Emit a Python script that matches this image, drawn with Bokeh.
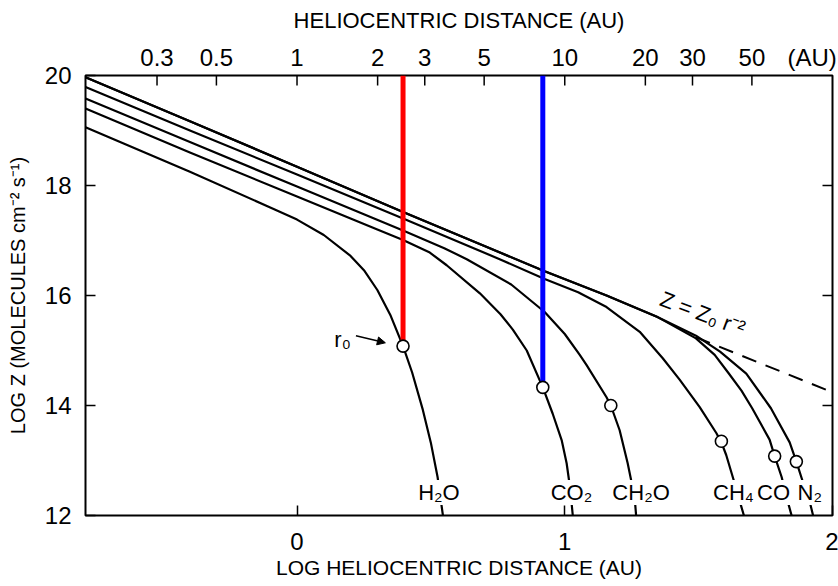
import math
from bokeh.plotting import figure
from bokeh.models import Range1d, LinearAxis, FixedTicker, Label, Arrow, NormalHead
from bokeh.embed import file_html
from bokeh.resources import INLINE

# ---------------- data (log10 heliocentric distance [AU], log10 Z) ----------------
h2o_x = [-0.79, -0.40, -0.10, 0.0, 0.10, 0.20, 0.25, 0.30, 0.35, 0.396, 0.43, 0.47, 0.50, 0.525, 0.545]
h2o_y = [19.06, 18.25, 17.60, 17.38, 17.10, 16.72, 16.46, 16.10, 15.63, 15.08, 14.60, 13.92, 13.32, 12.70, 12.00]

co2_x = [-0.79, -0.40, 0.0, 0.30, 0.396, 0.496, 0.559, 0.683, 0.76, 0.806, 0.858, 0.918, 0.955, 0.989, 1.007, 1.02, 1.03]
co2_y = [19.40, 18.60, 17.80, 17.20, 17.01, 16.78, 16.55, 16.04, 15.66, 15.38, 15.00, 14.33, 13.85, 13.36, 12.95, 12.50, 12.00]

ch2o_x = [-0.79, -0.40, 0.0, 0.396, 0.55, 0.634, 0.80, 0.925, 1.0, 1.056, 1.081, 1.156, 1.172, 1.205, 1.235, 1.261, 1.267]
ch2o_y = [19.58, 18.79, 17.98, 17.18, 16.86, 16.66, 16.20, 15.70, 15.30, 14.92, 14.74, 14.15, 14.00, 13.55, 12.95, 12.33, 11.97]

ch4_x = [-0.79, -0.40, 0.0, 0.396, 0.757, 0.925, 1.05, 1.156, 1.28, 1.366, 1.429, 1.504, 1.566, 1.585, 1.603, 1.63, 1.653, 1.672]
ch4_y = [19.79, 19.00, 18.20, 17.40, 16.66, 16.30, 16.06, 15.79, 15.34, 14.86, 14.47, 13.97, 13.50, 13.33, 13.10, 12.66, 12.27, 11.95]

co_x = [-0.79, -0.40, 0.0, 0.396, 0.70, 0.925, 1.156, 1.342, 1.49, 1.56, 1.61, 1.66, 1.70, 1.765, 1.784, 1.81, 1.832, 1.85]
co_y = [19.97, 19.17, 18.34, 17.52, 16.90, 16.44, 16.00, 15.62, 15.22, 14.92, 14.60, 14.27, 13.95, 13.38, 13.08, 12.70, 12.27, 11.95]

n2_x = [-0.79, -0.40, 0.0, 0.396, 0.70, 0.925, 1.156, 1.342, 1.49, 1.58, 1.678, 1.77, 1.84, 1.865, 1.89, 1.914, 1.93]
n2_y = [19.97, 19.17, 18.34, 17.52, 16.90, 16.44, 16.00, 15.62, 15.27, 14.98, 14.58, 13.95, 13.33, 12.98, 12.60, 12.27, 11.95]

# Z = Z0 r^-2 extension (dashed)
dash_x = [1.49, 2.0]
dash_y = [15.24, 14.24]

# r0 markers (open circles)
r0_names = ["H2O", "CO2", "CH2O", "CH4", "CO", "N2"]
r0_x = [0.396, 0.918, 1.172, 1.585, 1.784, 1.865]
r0_y = [15.08, 14.33, 14.00, 13.35, 13.08, 12.98]

# coloured vertical markers
red_x, red_y0, red_y1 = 0.396, 20.0, 15.08
blue_x, blue_y0, blue_y1 = 0.918, 20.0, 14.33

# species labels
lab_text = ["H\u2082O", "CO\u2082", "CH\u2082O", "CH\u2084", "CO", "N\u2082"]
lab_x = [0.53, 1.025, 1.285, 1.63, 1.78, 1.915]
lab_y = [12.42, 12.42, 12.42, 12.42, 12.42, 12.42]

# axis ticks
y_ticks = [12, 14, 16, 18, 20]
y_ticks_right = [14, 16, 18]
x_ticks = [0, 1, 2]
au_ticks = [0.3, 0.5, 1, 2, 3, 5, 10, 20, 30, 50]
au_labels = ["0.3", "0.5", "1", "2", "3", "5", "10", "20", "30", "50"]
au_unit_pos = 1.924          # log position where the "(AU)" unit text sits
au_unit_text = "(AU)"

TICK_FONT = "Liberation Sans"
TXT_FONT = "Liberation Sans"
X0, X1, Y0, Y1 = -0.79, 2.0, 12.0, 20.0
TICK_DY = 10 / 55.0    # tick length (10 px) in y data units
TICK_DX = 10 / 268.0   # tick length (10 px) in x data units

p = figure(width=838, height=586, output_backend="svg", toolbar_location=None,
           x_range=Range1d(X0, X1), y_range=Range1d(Y0, Y1),
           x_axis_location=None, y_axis_location=None,
           min_border_left=85, min_border_right=6, min_border_top=75, min_border_bottom=71)
p.background_fill_color = "white"
p.border_fill_color = "white"
p.outline_line_color = "black"
p.outline_line_width = 2
p.xgrid.visible = False
p.ygrid.visible = False

def style_axis(ax, font_size="24px"):
    ax.axis_line_color = None
    ax.major_tick_out = 0
    ax.major_tick_in = 10
    ax.major_tick_line_color = "black"
    ax.major_tick_line_width = 1.5
    ax.minor_tick_line_color = None
    ax.major_label_text_font = TICK_FONT
    ax.major_label_text_font_size = font_size
    ax.major_label_text_color = "black"
    ax.axis_label_text_font = TXT_FONT
    ax.axis_label_text_font_style = "normal"
    ax.axis_label_text_color = "black"

left = LinearAxis(ticker=FixedTicker(ticks=y_ticks), axis_label="LOG Z (MOLECULES cm\u207b\u00b2 s\u207b\u00b9)")
style_axis(left)
left.major_label_standoff = 14
left.axis_label_standoff = 13
left.axis_label_text_font_size = "20px"
p.add_layout(left, "left")

bottom = LinearAxis(ticker=FixedTicker(ticks=x_ticks), axis_label="LOG HELIOCENTRIC DISTANCE (AU)")
style_axis(bottom)
bottom.major_label_standoff = 17
bottom.axis_label_standoff = 3
bottom.axis_label_text_font_size = "21px"
p.add_layout(bottom, "below")

top_ticks = [math.log10(v) for v in au_ticks]
top_label_pos = top_ticks + [au_unit_pos]
top = LinearAxis(ticker=FixedTicker(ticks=top_label_pos), axis_label="HELIOCENTRIC DISTANCE (AU)")
style_axis(top)
top.major_tick_in = 0
top.major_label_overrides = {t: s for t, s in zip(top_label_pos, au_labels + [au_unit_text])}
top.major_label_standoff = 5
top.axis_label_standoff = 8
top.axis_label_text_font_size = "22px"
p.add_layout(top, "above")

# inward tick marks on top (AU scale) and right edges
p.segment(x0=top_ticks, y0=[Y1] * len(top_ticks), x1=top_ticks, y1=[Y1 - TICK_DY] * len(top_ticks),
          line_color="black", line_width=1.5)
p.segment(x0=[X1] * len(y_ticks_right), y0=y_ticks_right, x1=[X1 - TICK_DX] * len(y_ticks_right),
          y1=y_ticks_right, line_color="black", line_width=1.5)

LW = 2.2
for xs, ys in [(h2o_x, h2o_y), (co2_x, co2_y), (ch2o_x, ch2o_y),
               (ch4_x, ch4_y), (co_x, co_y), (n2_x, n2_y)]:
    p.line(xs, ys, line_color="black", line_width=LW, line_join="round")

p.line(dash_x, dash_y, line_color="black", line_width=2, line_dash="15 10")

p.segment(x0=[red_x], y0=[red_y0], x1=[red_x], y1=[red_y1], line_color="red", line_width=5)
p.segment(x0=[blue_x], y0=[blue_y0], x1=[blue_x], y1=[blue_y1], line_color="blue", line_width=5)

p.scatter(r0_x, r0_y, size=12, fill_color="white", line_color="black", line_width=1.6)

for t, x, y in zip(lab_text, lab_x, lab_y):
    p.add_layout(Label(x=x, y=y, text=t, text_font=TXT_FONT, text_font_size="22px",
                       text_color="black", text_align="center", text_baseline="middle",
                       background_fill_color="white"))

p.add_layout(Label(x=0.17, y=15.2, text="r\u2080", text_font=TXT_FONT, text_font_size="22px",
                   text_color="black", text_align="center", text_baseline="middle"))
p.add_layout(Arrow(end=NormalHead(size=8, fill_color="black", line_color="black"),
                   x_start=0.22, y_start=15.27, x_end=0.33, y_end=15.14,
                   line_color="black", line_width=1.5))

p.add_layout(Label(x=1.515, y=15.67, text="Z = Z\u2080 r\u207b\u00b2", text_font=TXT_FONT,
                   text_color="black", text_font_size="22px", angle=-0.36,
                   text_align="center", text_baseline="middle"))

open("out.html", "w").write(file_html(p, INLINE))
